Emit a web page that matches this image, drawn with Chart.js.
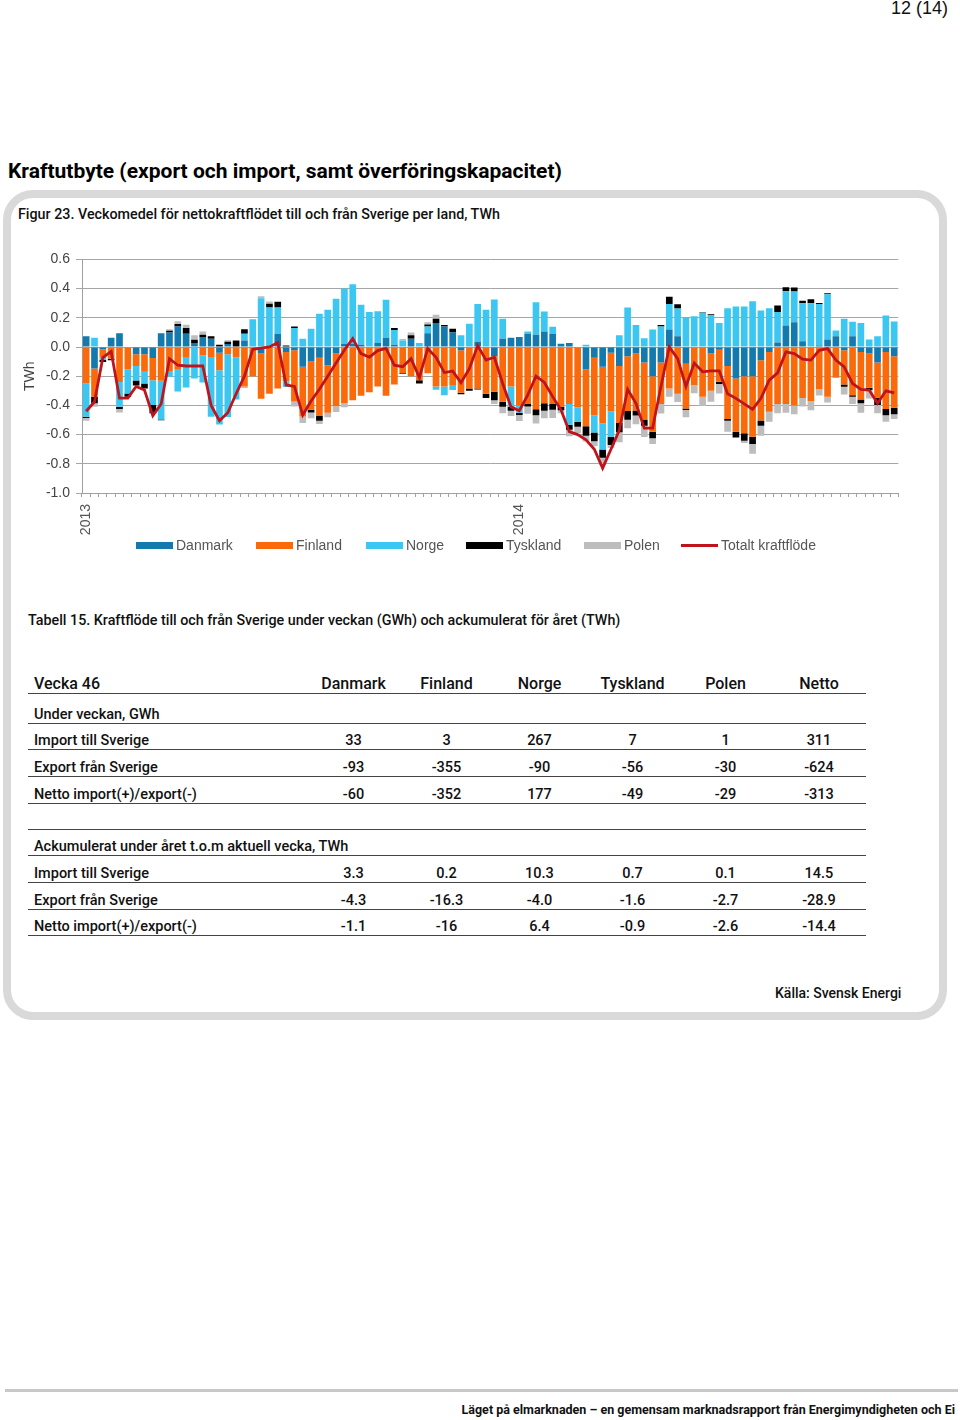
<!DOCTYPE html>
<html lang="sv">
<head>
<meta charset="utf-8">
<script src="https://cdn.jsdelivr.net/npm/chart.js@4.4.1/dist/chart.umd.min.js"></script>
<style>
  html,body{margin:0;padding:0;background:#fff;}
  body{width:960px;height:1420px;position:relative;font-family:Roboto,"Liberation Sans",Arial,sans-serif;color:#111;overflow:hidden;}
  .abs{position:absolute;white-space:nowrap;}
  #pageno{right:12px;top:-3px;font-size:18px;line-height:22px;font-family:"Liberation Sans",Arial,sans-serif;color:#111;}
  #heading{left:8px;top:159px;font-size:21px;font-weight:700;color:#000;}
  #box{left:3px;top:190px;width:928px;height:814px;border:8px solid #d9d9d9;border-radius:30px;}
  #caption{left:18px;top:206px;font-size:14.3px;font-weight:500;color:#111;}
  #chartwrap{position:absolute;left:20px;top:245px;width:898px;height:298px;}
  #legend{left:0;top:536px;width:960px;height:20px;font-family:"Liberation Sans",Arial,sans-serif;font-size:14px;color:#555;}
  .lg{position:absolute;top:0;height:18px;line-height:18px;}
  .lg i{position:absolute;left:0;top:6px;width:37px;height:7px;}
  .lg span{position:absolute;left:40px;top:0;}
  #tcap{left:28px;top:612px;font-size:14.3px;font-weight:500;color:#111;}
  table{position:absolute;left:28px;top:670px;width:838px;border-collapse:collapse;font-size:14.5px;font-weight:500;color:#111;table-layout:fixed;}
  td{box-sizing:border-box;padding:0;height:26.7px;border-bottom:1px solid #444;vertical-align:bottom;text-align:center;white-space:nowrap;overflow:visible;}
  td.l{text-align:left;padding-left:6px;}
  tr.hd td{font-size:16px;height:23px;}
  tr.sub1 td{height:30px;}
  tr.gap td{height:26px;}
  #source{left:775px;top:985px;font-size:14px;font-weight:500;color:#111;}
  #footline{left:5px;top:1389px;width:953px;height:3px;background:#c8c8c8;}
  #footer{right:5px;top:1402px;font-size:12.5px;font-weight:700;color:#111;}
</style>
</head>
<body>
<div id="pageno" class="abs">12 (14)</div>
<div id="heading" class="abs">Kraftutbyte (export och import, samt överföringskapacitet)</div>
<div id="box" class="abs"></div>
<div id="caption" class="abs">Figur 23. Veckomedel för nettokraftflödet till och från Sverige per land, TWh</div>
<div id="chartwrap"><canvas id="c"></canvas></div>
<div id="legend" class="abs"></div>
<div id="tcap" class="abs">Tabell 15. Kraftflöde till och från Sverige under veckan (GWh) och ackumulerat för året (TWh)</div>
<table id="tbl"></table>
<div id="source" class="abs">Källa: Svensk Energi</div>
<div id="footline" class="abs"></div>
<div id="footer" class="abs">Läget på elmarknaden – en gemensam marknadsrapport från Energimyndigheten och Ei</div>

<script>
// ---- Data (TWh, weekly average net flow per country; + = import, - = export) ----
const years = ['2013', '2014'];
const weeksPerYear = [52, 46];

const danmark = [0.073,-0.148,-0.016,0.064,0.095,0,-0.05,-0.05,-0.075,0.095,
  0.1,0.14,0.09,0.027,0.068,0.057,-0.04,0.02,0,0.045,
  0,-0.045,0,0.09,-0.034,-0.023,-0.136,-0.1,-0.073,-0.125,
  -0.045,0.02,0.02,0.016,0,0.027,0.064,0.016,0,0.057,
  0,0.095,0.164,0.14,0.1,-0.023,0,0.034,0,-0.064,
  0.057,0.064,0.068,0.09,0.084,0.107,0.09,0.023,0.027,0,
  -0.152,-0.073,-0.136,-0.04,-0.13,-0.064,-0.045,-0.107,-0.2,-0.107,
  0.12,0.073,-0.114,0,0,-0.045,-0.018,-0.13,-0.216,-0.2,
  -0.2,-0.09,-0.034,0.03,0.148,0.17,0.04,0,0.011,0.052,
  0.073,-0.023,0.073,-0.034,-0.045,-0.107,-0.034,-0.064];

const finland = [-0.25,-0.193,-0.057,-0.08,-0.24,-0.152,-0.08,-0.12,-0.152,-0.232,
  -0.17,-0.15,-0.068,0,-0.057,-0.068,-0.12,-0.05,-0.07,-0.27,
  -0.2,-0.31,-0.32,-0.284,-0.2,-0.35,-0.34,-0.33,-0.4,-0.325,
  -0.36,-0.386,-0.364,-0.334,-0.31,-0.27,-0.334,-0.257,-0.18,-0.2,
  -0.227,-0.18,-0.27,-0.27,-0.26,-0.29,-0.284,-0.284,-0.32,-0.243,
  -0.375,-0.27,-0.4,-0.39,-0.427,-0.386,-0.39,-0.41,-0.39,-0.414,
  -0.39,-0.395,-0.386,-0.4,-0.39,-0.375,-0.39,-0.393,-0.38,-0.284,
  -0.284,-0.32,-0.307,-0.26,-0.34,-0.255,-0.22,-0.364,-0.364,-0.39,
  -0.414,-0.414,-0.41,-0.39,-0.39,-0.4,-0.35,-0.37,-0.29,-0.34,
  -0.21,-0.234,-0.33,-0.325,-0.234,-0.24,-0.39,-0.352];

const norge = [-0.227,0.064,-0.016,0,-0.17,-0.166,-0.1,-0.08,-0.17,-0.264,
  -0.034,-0.155,-0.21,-0.216,-0.186,-0.41,-0.37,-0.43,-0.29,0.045,
  0.19,0.334,0.27,0.18,-0.04,0.13,0.057,0.125,0.227,0.255,
  0.33,0.38,0.41,0.274,0.24,0.218,0.26,0.1,0.045,0,
  0.027,0.045,-0.023,-0.06,-0.034,0.08,0.16,0.26,0.255,0.325,
  0.136,-0.14,-0.05,0.016,0.223,0.136,0.048,0,-0.143,-0.098,
  0.016,-0.118,-0.18,-0.175,0.08,0.27,0.15,0.06,0.12,0.14,
  0.175,0.19,0.205,0.21,0.234,0.22,0.164,0.266,0.277,0.277,
  0.314,0.25,0.266,0.21,0.234,0.21,0.26,0.3,0.284,0.31,
  0.04,0.193,0.1,0.164,0.052,0.073,0.216,0.175];

const tyskland = [-0.01,-0.045,-0.014,-0.01,-0.014,-0.023,-0.034,-0.034,-0.057,-0.005,
  0.011,0.018,0.04,0.023,0.016,0.016,0.016,0.016,0.045,0.032,
  0,0,0.027,0.04,0.011,0.01,0,-0.018,-0.032,0,
  0,0,0,0,0,0,0,0.014,-0.005,0.023,
  -0.023,0.014,0.03,0.01,0.023,-0.01,-0.016,-0.007,-0.03,-0.057,
  -0.034,-0.027,-0.016,-0.018,-0.04,-0.05,-0.04,-0.023,-0.034,-0.034,
  -0.066,-0.06,-0.057,-0.057,-0.064,-0.06,-0.034,-0.04,-0.045,0.011,
  0.05,0.03,-0.011,0,0.004,0.004,-0.016,-0.011,-0.04,-0.052,
  -0.05,-0.036,0,0.045,0.027,0.027,0.016,0.027,0.007,0.007,
  0,-0.016,-0.011,-0.027,-0.016,-0.05,-0.043,-0.045];

const polen = [-0.018,-0.023,0,0,-0.025,0,0,0,0,0,
  0.01,0.018,0.023,0.03,0.023,0,0,0.01,0,-0.01,
  0,0.014,0.014,0,0,-0.034,-0.045,-0.04,-0.023,-0.032,
  -0.04,-0.027,0,0,0,0,0,0,0.01,0.02,
  0,0.016,0.027,0,0.007,0,0,0,0,-0.027,
  -0.045,-0.036,-0.04,-0.05,-0.057,-0.052,-0.057,-0.02,-0.045,-0.045,
  -0.04,-0.034,-0.05,-0.02,-0.068,-0.057,-0.06,-0.077,-0.04,-0.064,
  -0.057,-0.057,-0.05,-0.057,-0.064,-0.075,-0.064,-0.075,0,-0.016,
  -0.068,-0.068,-0.068,-0.064,-0.06,-0.06,-0.057,-0.064,-0.043,-0.04,
  0,-0.052,-0.05,-0.064,-0.057,-0.057,-0.045,-0.032];

const totalt = [-0.44,-0.375,-0.073,-0.03,-0.35,-0.35,-0.27,-0.295,-0.47,-0.39,
  -0.08,-0.125,-0.13,-0.13,-0.13,-0.4,-0.505,-0.45,-0.32,-0.2,
  -0.016,-0.007,0,0.03,-0.26,-0.27,-0.466,-0.37,-0.29,-0.2,
  -0.11,-0.02,0.057,-0.045,-0.07,-0.025,-0.01,-0.125,-0.135,-0.08,
  -0.21,-0.01,-0.07,-0.175,-0.165,-0.245,-0.148,0.01,-0.09,-0.07,
  -0.25,-0.41,-0.436,-0.33,-0.2,-0.243,-0.34,-0.43,-0.58,-0.6,
  -0.636,-0.7,-0.83,-0.7,-0.57,-0.29,-0.386,-0.556,-0.556,-0.27,
  0,-0.08,-0.27,-0.11,-0.17,-0.164,-0.164,-0.32,-0.352,-0.39,
  -0.427,-0.352,-0.227,-0.177,-0.034,-0.045,-0.084,-0.09,-0.023,-0.011,
  -0.09,-0.136,-0.25,-0.29,-0.295,-0.386,-0.3,-0.314];

const yTicks = {min: -1.0, max: 0.6, step: 0.2};

// Table (week 46)
const tableCols = ['Danmark', 'Finland', 'Norge', 'Tyskland', 'Polen', 'Netto'];
const weekImport = ['33', '3', '267', '7', '1', '311'];
const weekExport = ['-93', '-355', '-90', '-56', '-30', '-624'];
const weekNet = ['-60', '-352', '177', '-49', '-29', '-313'];
const accImport = ['3.3', '0.2', '10.3', '0.7', '0.1', '14.5'];
const accExport = ['-4.3', '-16.3', '-4.0', '-1.6', '-2.7', '-28.9'];
const accNet = ['-1.1', '-16', '6.4', '-0.9', '-2.6', '-14.4'];

// ---- Categories ----
const categories = [];
years.forEach((y, i) => { for (let w = 1; w <= weeksPerYear[i]; w++) categories.push(y + '|' + w); });

const COLORS = {dk: '#1479ad', fi: '#fb6a0a', no: '#3cc7f2', de: '#000000', pl: '#bdbdbd', tot: '#c0141c'};

const barDs = (label, data, color) => ({
  type: 'bar', label, data, backgroundColor: color, borderWidth: 0,
  stack: 'flow', order: 1, barPercentage: 0.8, categoryPercentage: 1.0
});

new Chart(document.getElementById('c'), {
  data: {
    labels: categories,
    datasets: [
      {type: 'line', label: 'Totalt kraftflöde', data: totalt, borderColor: COLORS.tot,
       borderWidth: 2.8, pointRadius: 0, tension: 0, fill: false, stack: 'tot', order: 0},
      barDs('Danmark', danmark, COLORS.dk),
      barDs('Finland', finland, COLORS.fi),
      barDs('Norge', norge, COLORS.no),
      barDs('Tyskland', tyskland, COLORS.de),
      barDs('Polen', polen, COLORS.pl)
    ]
  },
  options: {
    responsive: true, maintainAspectRatio: false, animation: false,
    layout: {padding: {top: 0, right: 0, left: 0, bottom: 0}},
    plugins: {legend: {display: false}, tooltip: {enabled: false}},
    scales: {
      x: {
        stacked: true, offset: true,
        grid: {display: true, drawOnChartArea: false, drawTicks: true, tickLength: 4, color: '#a0a0a0', offset: true},
        border: {display: true, color: '#a0a0a0'},
        ticks: {
          autoSkip: false, maxRotation: 90, minRotation: 90, padding: 7,
          color: '#555', font: {family: '"Liberation Sans", Arial, sans-serif', size: 14},
          callback: function(v) { const p = this.getLabelForValue(v).split('|'); return p[1] === '1' ? p[0] : ''; }
        },
        afterFit: s => { s.height = 50; }
      },
      y: {
        stacked: true, min: yTicks.min, max: yTicks.max,
        grid: {color: '#a6a6a6', tickLength: 6, lineWidth: 1},
        border: {display: true, color: '#a0a0a0'},
        ticks: {stepSize: yTicks.step, padding: 6, color: '#444',
          font: {family: '"Liberation Sans", Arial, sans-serif', size: 14},
          callback: v => (Math.abs(v) < 1e-9 ? 0 : v).toFixed(1)},
        title: {display: true, text: 'TWh', color: '#444', padding: {top: 2, bottom: 0},
          font: {family: '"Liberation Sans", Arial, sans-serif', size: 14}},
        afterFit: s => { s.width = 62; }
      }
    }
  }
});

// ---- Legend ----
const legendItems = [
  {label: 'Danmark', color: COLORS.dk, x: 136},
  {label: 'Finland', color: COLORS.fi, x: 256},
  {label: 'Norge', color: COLORS.no, x: 366},
  {label: 'Tyskland', color: COLORS.de, x: 466},
  {label: 'Polen', color: COLORS.pl, x: 584},
  {label: 'Totalt kraftflöde', color: COLORS.tot, x: 681, line: true}
];
const lg = document.getElementById('legend');
legendItems.forEach(it => {
  const d = document.createElement('div');
  d.className = 'lg'; d.style.left = it.x + 'px';
  const i = document.createElement('i');
  i.style.background = it.color;
  if (it.line) { i.style.height = '3px'; i.style.top = '8px'; }
  const s = document.createElement('span'); s.textContent = it.label;
  d.appendChild(i); d.appendChild(s); lg.appendChild(d);
});

// ---- Table ----
const tbl = document.getElementById('tbl');
const colW = [279, 93, 93, 93, 93, 93, 94];
function row(cells, cls) {
  const tr = document.createElement('tr'); if (cls) tr.className = cls;
  cells.forEach((c, k) => {
    const td = document.createElement('td'); td.textContent = c;
    if (k === 0) td.className = 'l';
    td.style.width = colW[k] + 'px';
    tr.appendChild(td);
  });
  tbl.appendChild(tr);
}
row(['Vecka 46'].concat(tableCols), 'hd');
row(['Under veckan, GWh', '', '', '', '', '', ''], 'sub1');
row(['Import till Sverige'].concat(weekImport));
row(['Export från Sverige'].concat(weekExport));
row(['Netto import(+)/export(-)'].concat(weekNet));
row(['', '', '', '', '', '', ''], 'gap');
row(['Ackumulerat under året t.o.m aktuell vecka, TWh', '', '', '', '', '', '']);
row(['Import till Sverige'].concat(accImport));
row(['Export från Sverige'].concat(accExport));
row(['Netto import(+)/export(-)'].concat(accNet));
</script>
</body>
</html>
